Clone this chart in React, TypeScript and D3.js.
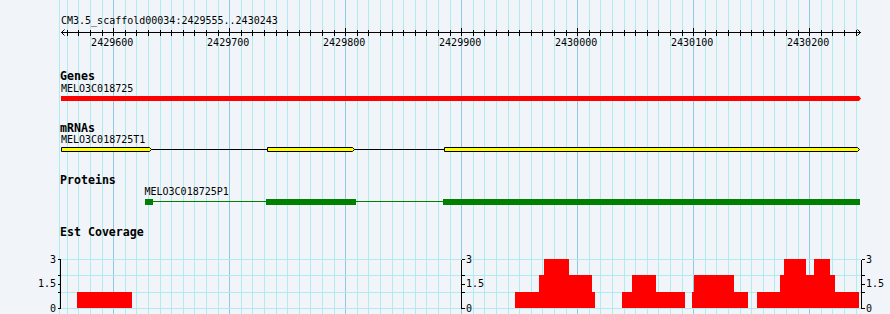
import React from "react";
import * as d3 from "d3";

// ---- data ----
const refName = "CM3.5_scaffold00034";
const viewStart = 2429555;
const viewEnd = 2430243;
const rulerTicks = [2429600, 2429700, 2429800, 2429900, 2430000, 2430100, 2430200];

const geneName = "MELO3C018725";
const geneStart = 2429555;
const geneEnd = 2430243;

const mrnaName = "MELO3C018725T1";
const mrnaExonStarts = [2429555, 2429733, 2429885];
const mrnaExonEnds = [2429631, 2429806, 2430241];

const proteinName = "MELO3C018725P1";
const proteinStarts = [2429627, 2429732, 2429884];
const proteinEnds = [2429634, 2429809, 2430244];

const covStarts = [2429569, 2429946, 2429967, 2429971, 2429993, 2430013, 2430039, 2430047, 2430068, 2430099, 2430101, 2430135, 2430155, 2430175, 2430178, 2430197, 2430204, 2430218, 2430222];
const covEnds = [2429616, 2429967, 2429971, 2429993, 2430013, 2430015, 2430047, 2430068, 2430093, 2430101, 2430135, 2430147, 2430175, 2430178, 2430197, 2430204, 2430218, 2430222, 2430243];
const covValues = [1, 1, 2, 3, 2, 1, 1, 2, 1, 1, 2, 1, 1, 2, 3, 2, 3, 2, 1];
const covTickLabels = [0, 1.5, 3];
const covMinorTicks = [1, 2];
const covGrid = [0, 1, 2, 3];

const trackLabels = ["Genes", "mRNAs", "Proteins", "Est Coverage"];

// ---- styles ----
const W = 890, H = 314;
const BG = "#f1f5fa";
const GRID_MINOR = "#aeecef";
const GRID_MAJOR = "#8fc9e6";
const MONO = "'DejaVu Sans Mono', 'Liberation Mono', monospace";

export default function App() {
  const x = d3.scaleLinear().domain([viewStart, viewEnd]).range([61, 859]);
  const y = d3.scaleLinear().domain([0, 3]).range([308, 259]);

  const gridPos = d3.range(Math.ceil(viewStart / 10) * 10, viewEnd + 1, 10);
  const minorRuler = gridPos;

  const px = (v: number) => Math.round(x(v)) + 0.5;

  const arrowBlock = (x0: number, x1: number, y0: number, y1: number, tip: number) => {
    const m = (y0 + y1) / 2;
    return `M${x0},${y0}L${x1},${y0}L${x1 + tip},${m}L${x1},${y1}L${x0},${y1}Z`;
  };

  const axisX = [60, 461, 861];
  const axisSide = [-1, 1, 1];

  return (
    <>
      <style>{`body{margin:0;background:${BG}}`}</style>
      <svg width={W} height={H} style={{ display: "block", background: BG }}>
        <rect x={0} y={0} width={W} height={H} fill={BG} />
        {/* vertical grid */}
        <line x1={59.5} x2={59.5} y1={0} y2={H} stroke={GRID_MINOR} strokeWidth={1} shapeRendering="crispEdges" />
        {gridPos.map((g) => (
          <line key={"g" + g} x1={px(g)} x2={px(g)} y1={0} y2={H}
            stroke={g % 100 === 0 ? GRID_MAJOR : GRID_MINOR} strokeWidth={1} shapeRendering="crispEdges" />
        ))}
        {/* horizontal grid in coverage track */}
        {covGrid.map((v) => (
          <line key={"h" + v} x1={60} x2={861} y1={Math.round(y(v)) + 0.5} y2={Math.round(y(v)) + 0.5}
            stroke={GRID_MINOR} strokeWidth={1} shapeRendering="crispEdges" />
        ))}

        {/* ruler */}
        <text x={61} y={24} fontFamily={MONO} fontSize={10} fill="#000">
          {`${refName}:${viewStart}..${viewEnd}`}
        </text>
        <line x1={61} x2={861} y1={32.5} y2={32.5} stroke="#000" shapeRendering="crispEdges" />
        <path d="M64.5,29.5L61.5,32.5L64.5,35.5" fill="none" stroke="#000" />
        <path d="M857.5,29.5L860.5,32.5L857.5,35.5" fill="none" stroke="#000" />
        {minorRuler.map((t) => (
          <line key={"rt" + t} x1={px(t)} x2={px(t)} y1={t % 100 === 0 ? 28 : 29.5} y2={t % 100 === 0 ? 36 : 35.5}
            stroke="#000" shapeRendering="crispEdges" />
        ))}
        {rulerTicks.map((t) => (
          <text key={"rl" + t} x={x(t) - 1} y={46} textAnchor="middle" fontFamily={MONO} fontSize={10} fill="#000">
            {t}
          </text>
        ))}

        {/* track labels */}
        {[80, 131.5, 184, 235.5].map((yy, i) => (
          <text key={"tl" + i} x={60} y={yy} fontFamily={MONO} fontSize={11.6} fontWeight="bold" fill="#000">
            {trackLabels[i]}
          </text>
        ))}

        {/* genes */}
        <text x={61} y={92} fontFamily={MONO} fontSize={10} fill="#000">{geneName}</text>
        <path d={arrowBlock(x(geneStart), x(geneEnd), 96, 101, 2)} fill="#ff0000" />

        {/* mRNAs */}
        <text x={61} y={143} fontFamily={MONO} fontSize={10} fill="#000">{mrnaName}</text>
        {mrnaExonStarts.slice(1).map((s, i) => (
          <line key={"in" + i} x1={x(mrnaExonEnds[i])} x2={x(s)} y1={149.5} y2={149.5} stroke="#000" shapeRendering="crispEdges" />
        ))}
        {mrnaExonStarts.map((s, i) => (
          <path key={"ex" + i} d={arrowBlock(Math.round(x(s)) + 0.5, Math.round(x(mrnaExonEnds[i])) + 0.5, 147.5, 151.5, 2)}
            fill="#ffff00" stroke="#000" strokeWidth={1} />
        ))}

        {/* proteins */}
        <text x={x(proteinStarts[0])} y={195} fontFamily={MONO} fontSize={10} fill="#000">{proteinName}</text>
        {proteinStarts.slice(1).map((s, i) => (
          <line key={"pi" + i} x1={x(proteinEnds[i])} x2={x(s)} y1={201.5} y2={201.5} stroke="#008000" shapeRendering="crispEdges" />
        ))}
        {proteinStarts.map((s, i) => (
          <rect key={"pb" + i} x={Math.round(x(s))} y={199} width={Math.round(x(proteinEnds[i])) - Math.round(x(s))} height={6}
            fill="#008000" shapeRendering="crispEdges" />
        ))}

        {/* coverage */}
        {covStarts.map((s, i) => (
          <rect key={"cv" + i} x={Math.round(x(s))} y={Math.round(y(covValues[i]))}
            width={Math.round(x(covEnds[i])) - Math.round(x(s))} height={Math.round(y(0)) - Math.round(y(covValues[i]))}
            fill="#ff0000" shapeRendering="crispEdges" />
        ))}
        {axisX.map((ax, k) => {
          const side = axisSide[k];
          return (
            <g key={"ax" + k}>
              <line x1={ax + 0.5} x2={ax + 0.5} y1={Math.round(y(3)) + 0.5} y2={Math.round(y(0)) + 0.5} stroke="#000" shapeRendering="crispEdges" />
              {[...covTickLabels, ...covMinorTicks].map((v) => (
                <line key={"t" + v} x1={ax + 0.5} x2={ax + 0.5 + side * 3} y1={Math.round(y(v)) + 0.5} y2={Math.round(y(v)) + 0.5}
                  stroke="#000" shapeRendering="crispEdges" />
              ))}
              {covTickLabels.map((v) => (
                <text key={"l" + v} x={ax + side * 4 + (side > 0 ? 1 : 0)} y={y(v)} dy="0.35em"
                  textAnchor={side < 0 ? "end" : "start"} fontFamily={MONO} fontSize={10} fill="#000">
                  {v}
                </text>
              ))}
            </g>
          );
        })}
      </svg>
    </>
  );
}
